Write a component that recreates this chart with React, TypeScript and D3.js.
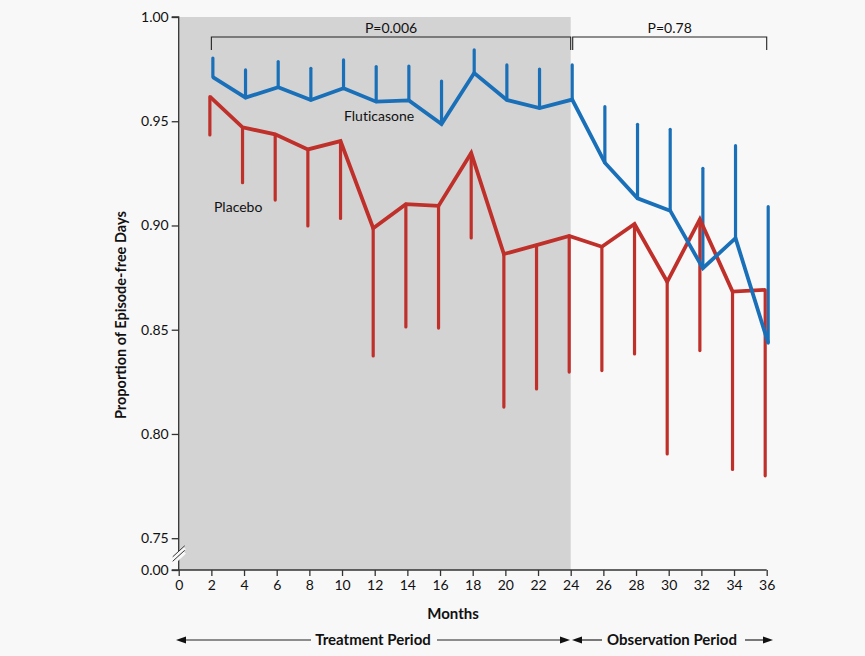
import React, { useRef, useEffect } from 'react';
import * as d3 from 'd3';

const months = [2, 4, 6, 8, 10, 12, 14, 16, 18, 20, 22, 24, 26, 28, 30, 32, 34, 36];
const fluticasone = [0.9712, 0.9613, 0.9663, 0.9602, 0.9658, 0.9594, 0.96, 0.9487, 0.9731, 0.9602, 0.9563, 0.9604, 0.9301, 0.913, 0.9071, 0.8795, 0.8939, 0.8436];
const fluticasoneUpper = [0.9803, 0.9746, 0.9786, 0.9754, 0.9794, 0.9762, 0.9765, 0.9693, 0.9842, 0.977, 0.975, 0.977, 0.957, 0.9485, 0.9461, 0.9274, 0.9383, 0.909];
const placebo = [0.9618, 0.9471, 0.9437, 0.9365, 0.9405, 0.8987, 0.9102, 0.9094, 0.9348, 0.8863, 0.8906, 0.895, 0.8898, 0.9007, 0.873, 0.903, 0.8683, 0.8691];
const placeboLower = [0.9434, 0.9205, 0.9122, 0.8998, 0.9034, 0.8374, 0.8513, 0.8508, 0.894, 0.8129, 0.8216, 0.8297, 0.8304, 0.8384, 0.7904, 0.84, 0.783, 0.7799];
const xTicks = d3.range(0, 37, 2);
const yTicks = [0, 0.75, 0.8, 0.85, 0.9, 0.95, 1.0];
const pValues = [
  { from: 2, to: 24, label: 'P=0.006' },
  { from: 24, to: 36, label: 'P=0.78' },
];

const FONT = 'Lato, "Open Sans", sans-serif';

function Chart() {
  const svgRef = useRef<SVGSVGElement>(null);

  useEffect(() => {
    const svg = d3.select(svgRef.current);
    svg.selectAll('*').remove();

    const width = 865;
    const height = 656;

    const x = d3.scaleLinear().domain([0, 36]).range([178.7, 766.7]);
    // broken axis: 0.00 sits just under 0.75
    const y = d3.scaleLinear().domain([0, 0.75, 1]).range([570, 538.2, 17]);

    svg.append('rect').attr('width', width).attr('height', height).attr('fill', '#f8f8f8');

    // treatment period shading
    svg.append('rect')
      .attr('x', x(0))
      .attr('y', y(1))
      .attr('width', x(24) - x(0))
      .attr('height', y(0) - y(1))
      .attr('fill', '#d3d3d3');

    const blue = '#1a70b8';
    const red = '#c0302b';

    // error bars
    svg.append('g')
      .selectAll('line')
      .data(months)
      .join('line')
      .attr('x1', (d) => x(d) + 1.5)
      .attr('x2', (d) => x(d) + 1.5)
      .attr('y1', (d, i) => y(fluticasone[i]))
      .attr('y2', (d, i) => y(fluticasoneUpper[i]))
      .attr('stroke', blue)
      .attr('stroke-width', 3.2)
      .attr('stroke-linecap', 'round');

    svg.append('g')
      .selectAll('line')
      .data(months)
      .join('line')
      .attr('x1', (d) => x(d) - 1.5)
      .attr('x2', (d) => x(d) - 1.5)
      .attr('y1', (d, i) => y(placebo[i]))
      .attr('y2', (d, i) => y(placeboLower[i]))
      .attr('stroke', red)
      .attr('stroke-width', 3.2)
      .attr('stroke-linecap', 'round');

    const line = (off: number, vals: number[]) =>
      d3.line<number>()
        .x((d) => x(d) + off)
        .y((d, i) => y(vals[i]))(months);

    svg.append('path')
      .attr('d', line(-1.5, placebo))
      .attr('fill', 'none')
      .attr('stroke', red)
      .attr('stroke-width', 3.8)
      .attr('stroke-linejoin', 'miter');

    svg.append('path')
      .attr('d', line(1.5, fluticasone))
      .attr('fill', 'none')
      .attr('stroke', blue)
      .attr('stroke-width', 3.8)
      .attr('stroke-linejoin', 'miter');

    // axes
    const yAxis = svg.append('g')
      .attr('transform', `translate(${x(0)},0)`)
      .call(d3.axisLeft(y).tickValues(yTicks).tickFormat(d3.format('.2f')).tickSize(7).tickPadding(3));
    const xAxis = svg.append('g')
      .attr('transform', `translate(0,${y(0)})`)
      .call(d3.axisBottom(x).tickValues(xTicks).tickSize(6).tickPadding(4));

    [xAxis, yAxis].forEach((a) => {
      a.select('.domain').attr('stroke', '#333').attr('stroke-width', 1.3);
      a.selectAll('.tick line').attr('stroke', '#333').attr('stroke-width', 1.3);
      a.selectAll('.tick text').attr('font-family', FONT).attr('font-size', 14).attr('fill', '#111');
    });
    yAxis.select('.domain').attr('d', `M-7,${y(1)}H0V${y(0)}H-7`);
    xAxis.select('.domain').attr('d', `M${x(0)},0H${x(36)}`);

    // axis break
    [0, 4.5].forEach((dy) => {
      svg.append('line')
        .attr('x1', x(0) - 6).attr('y1', 559 + dy)
        .attr('x2', x(0) + 6).attr('y2', 548 + dy)
        .attr('stroke', '#f8f8f8').attr('stroke-width', 3.5);
    });
    [0, 4.5].forEach((dy) => {
      svg.append('line')
        .attr('x1', x(0) - 6).attr('y1', 559 + dy - 2.2)
        .attr('x2', x(0) + 6).attr('y2', 548 + dy - 2.2)
        .attr('stroke', '#333').attr('stroke-width', 1);
    });

    // P-value brackets
    pValues.forEach((p, i) => {
      const x1 = x(p.from) + (i === 1 ? 2 : 0);
      const x2 = x(p.to);
      svg.append('path')
        .attr('d', `M${x1},50V37H${x2}V50`)
        .attr('fill', 'none')
        .attr('stroke', '#222')
        .attr('stroke-width', 1.1);
      svg.append('text')
        .attr('x', (x1 + x2) / 2)
        .attr('y', 33)
        .attr('text-anchor', 'middle')
        .attr('font-family', FONT)
        .attr('font-size', 14)
        .attr('fill', '#111')
        .text(p.label);
    });

    // series labels
    svg.append('text')
      .attr('x', 344).attr('y', 121)
      .attr('font-family', FONT).attr('font-size', 14).attr('fill', '#111')
      .style('font-variant-ligatures', 'none')
      .text('Fluticasone');
    svg.append('text')
      .attr('x', 214).attr('y', 212)
      .attr('font-family', FONT).attr('font-size', 14).attr('fill', '#111')
      .text('Placebo');

    // axis titles
    svg.append('text')
      .attr('transform', `translate(126,${y(0.857)}) rotate(-90)`)
      .attr('text-anchor', 'middle')
      .attr('font-family', FONT).attr('font-size', 14.5).attr('font-weight', 'bold').attr('fill', '#111')
      .text('Proportion of Episode-free Days');
    svg.append('text')
      .attr('x', x(16.8)).attr('y', 619)
      .attr('text-anchor', 'middle')
      .attr('font-family', FONT).attr('font-size', 15).attr('font-weight', 'bold').attr('fill', '#111')
      .text('Months');

    // period arrows
    const arrowY = 640;
    const arrow = (from: number, to: number) => {
      const dir = to > from ? 1 : -1;
      svg.append('line')
        .attr('x1', from).attr('x2', to - dir * 6)
        .attr('y1', arrowY).attr('y2', arrowY)
        .attr('stroke', '#222').attr('stroke-width', 1.2);
      svg.append('path')
        .attr('d', `M${to},${arrowY}L${to - dir * 10},${arrowY - 3.5}L${to - dir * 10},${arrowY + 3.5}Z`)
        .attr('fill', '#111');
    };
    arrow(311, 176);
    arrow(437, 570);
    arrow(602, 572);
    arrow(745, 773);

    svg.append('text')
      .attr('x', 373).attr('y', 645)
      .attr('text-anchor', 'middle')
      .attr('font-family', FONT).attr('font-size', 15).attr('font-weight', 'bold').attr('fill', '#111')
      .text('Treatment Period');
    svg.append('text')
      .attr('x', 672).attr('y', 645)
      .attr('text-anchor', 'middle')
      .attr('font-family', FONT).attr('font-size', 15).attr('font-weight', 'bold').attr('fill', '#111')
      .text('Observation Period');
  }, []);

  return (
    <svg
      ref={svgRef}
      width={865}
      height={656}
      style={{ position: 'absolute', left: 0, top: 0, display: 'block' }}
    ></svg>
  );
}

export default function App() {
  return <Chart />;
}
